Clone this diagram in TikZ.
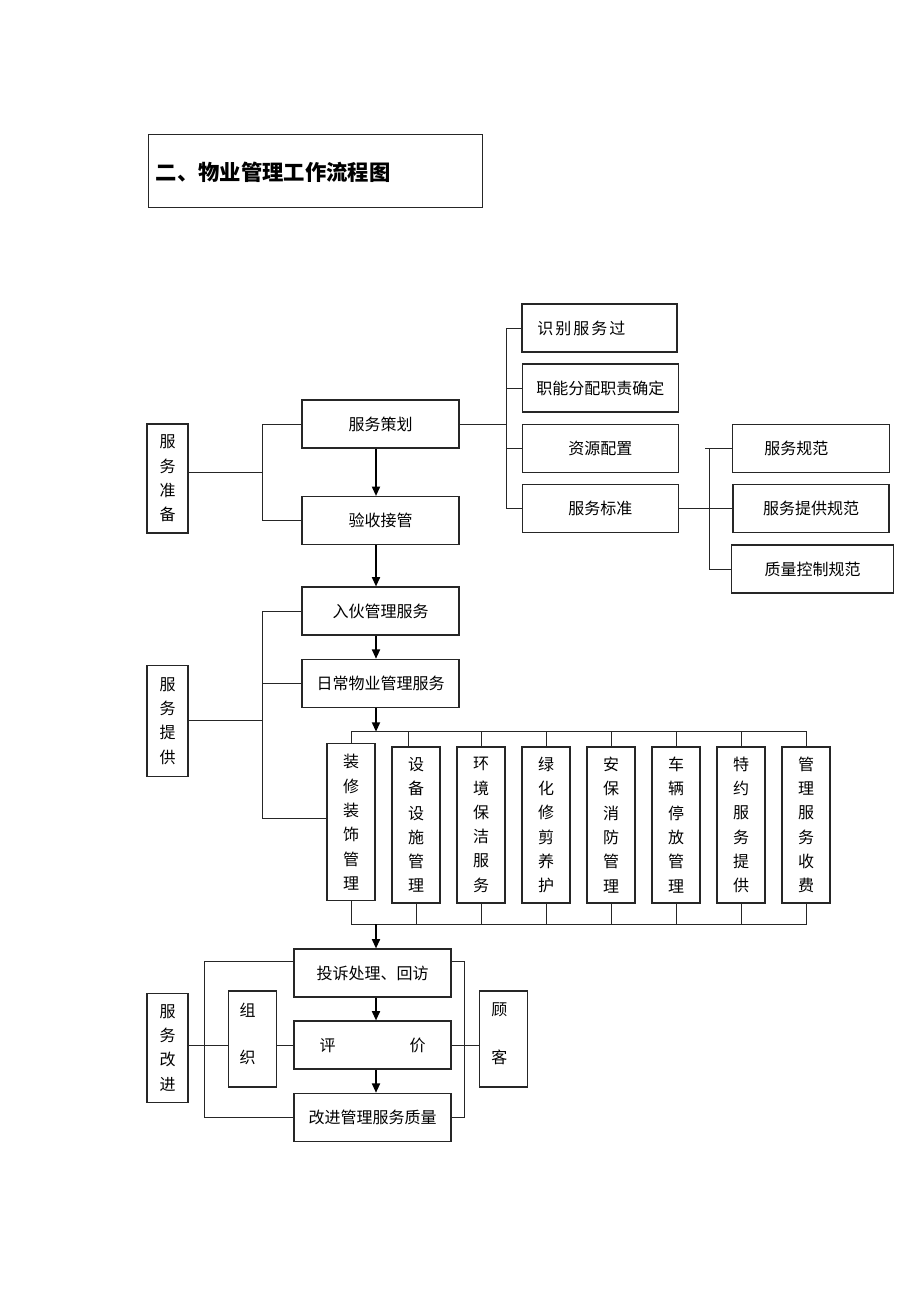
\documentclass[tikz,border=0pt]{standalone}
\usepackage{fontspec}
\newfontfamily\cjk{Noto Sans CJK SC}
\usetikzlibrary{arrows.meta}
\begin{document}
\begin{tikzpicture}[x=0.75pt,y=-0.75pt,
  box/.style={draw=black!85, line width=0.8pt, inner sep=0pt, align=center, font=\cjk\fontsize{12}{14}\selectfont},
  wh/.style 2 args={minimum width=#1*0.75pt, minimum height=#2*0.75pt},
  vtext/.style={font=\cjk\fontsize{12}{18.2}\selectfont},
  txt/.style={inner sep=0pt, font=\cjk\fontsize{12}{14}\selectfont},
  txtw/.style={inner sep=0pt, align=center, font=\cjk\fontsize{12}{35.8}\selectfont},
  ln/.style={line width=0.75pt, draw=black!85},
  arr/.style={line width=1.3pt, -{Triangle[length=7pt,width=6pt]}}]
\useasboundingbox (0,0) rectangle (920,1302);

% title
\node[box, wh={334.4}{72.6}] (title) at (315.5,171) {};
\node[anchor=west, inner sep=0pt, font=\cjk\bfseries\fontsize{16}{20}\selectfont] (titletext) at (155.7,172.7) {二、物业管理工作流程图};

% side boxes
\node[box, vtext, wh={41}{109}] (prep) at (167.5,478.5) {服\\务\\准\\备};
\node[box, vtext, wh={41}{111}] (prov) at (167.5,721) {服\\务\\提\\供};
\node[box, vtext, wh={41}{109}] (impr) at (167.5,1047.8) {服\\务\\改\\进};

% main column
\node[box, wh={157}{48}] (plan) at (380.5,424) {服务策划};
\node[box, wh={157}{48}] (accept) at (380.5,520.5) {验收接管};
\node[box, wh={157}{48}] (movein) at (380.5,611) {入伙管理服务};
\node[box, wh={157}{48}] (daily) at (380.5,683.3) {日常物业管理服务};

% right branch
\node[box, wh={155}{48}] (r1) at (599.5,328) {};
\node[txt, anchor=west] (r1t) at (537,328) {识\hspace{1.5pt}别\hspace{1.5pt}服\hspace{1.5pt}务\hspace{1.5pt}过};
\node[box, wh={156}{48}] (r2) at (600.3,388) {职能分配职责确定};
\node[box, wh={156}{48}] (r3) at (600.3,448.5) {资源配置};
\node[box, wh={156}{48}] (r4) at (600.3,508.7) {服务标准};
\node[box, wh={157}{48}] (s1) at (811.3,448.5) {};
\node[txt, anchor=west] (s1t) at (764,448.5) {服务规范};
\node[box, wh={156}{48}] (s2) at (811,508.7) {服务提供规范};
\node[box, wh={162}{48}] (s3) at (812.7,569) {质量控制规范};

% service columns
\node[box, vtext, wh={48}{156.7}] (c1) at (351,822.3) {装\\修\\装\\饰\\管\\理};
\node[box, vtext, wh={48}{156}] (c2) at (416,825) {设\\备\\设\\施\\管\\理};
\node[box, vtext, wh={48}{156}] (c3) at (481,825) {环\\境\\保\\洁\\服\\务};
\node[box, vtext, wh={48}{156}] (c4) at (546,825) {绿\\化\\修\\剪\\养\\护};
\node[box, vtext, wh={48}{156}] (c5) at (611,825) {安\\保\\消\\防\\管\\理};
\node[box, vtext, wh={48}{156}] (c6) at (676,825) {车\\辆\\停\\放\\管\\理};
\node[box, vtext, wh={48}{156}] (c7) at (741,825) {特\\约\\服\\务\\提\\供};
\node[box, vtext, wh={48}{156}] (c8) at (806,825) {管\\理\\服\\务\\收\\费};

% improvement section
\node[box, wh={157}{48}] (comp) at (372.5,973) {投诉处理、回访};
\node[box, wh={157}{48}] (eval) at (372.5,1045) {评\hspace{55.5pt}价};
\node[box, wh={157}{48}] (impv) at (372.5,1117.3) {改进管理服务质量};
\node[box, wh={48.4}{96}] (org) at (252.5,1039) {};
\node[txtw] (orgt) at (247.7,1033.9) {组\\织};
\node[box, wh={48.4}{96}] (cust) at (503.5,1039) {};
\node[txtw] (custt) at (499.3,1033.9) {顾\\客};

% ---- connectors ----
\coordinate (ax) at (376,0);
\coordinate (b1) at (262,472.7);
\draw[ln] (plan.west) -- (plan.west -| b1) -- (accept.west -| b1) -- (accept.west);
\draw[ln] (prep.east |- b1) -- (b1);
\draw[arr] (plan.south -| ax) -- (accept.north -| ax);

\coordinate (rb) at (506,424);
\draw[ln] (plan.east) -- (rb);
\draw[ln] (r1.west) -- (r1.west -| rb) -- (r4.west -| rb) -- (r4.west);
\draw[ln] (r2.west -| rb) -- (r2.west);
\draw[ln] (r3.west -| rb) -- (r3.west);

\coordinate (sb) at (709.3,0);
\coordinate (sbl) at (705,0);
\draw[ln] (r4.east) -- (s2.west);
\draw[ln] (s1.west -| sbl) -- (s1.west -| sb) -- (s3.west -| sb) -- (s3.west);
\draw[ln] (s1.west -| sb) -- (s1.west);

\draw[arr] (accept.south -| ax) -- (movein.north -| ax);
\draw[arr] (movein.south -| ax) -- (daily.north -| ax);

\coordinate (b2) at (262,720);
\coordinate (b2e) at (262,818.3);
\draw[ln] (movein.west) -| (b2e) -- (b2e -| c1.west);
\draw[ln] (daily.west) -- (daily.west -| b2);
\draw[ln] (prov.east |- b2) -- (b2);

\coordinate (tb) at (0,731.7);
\draw[arr] (daily.south -| ax) -- (ax |- tb);
\draw[ln] (c1.north) -- (c1.north |- tb) -- (c8.north |- tb) -- (c8.north);
\draw[ln] ([xshift=-6pt]c2.north) -- ([xshift=-6pt]c2.north |- tb);
\foreach \c in {c3,c4,c5,c6,c7} \draw[ln] (\c.north) -- (\c.north |- tb);

\coordinate (bb) at (0,924);
\draw[ln] (c1.south) -- (c1.south |- bb) -- (c8.south |- bb) -- (c8.south);
\foreach \c in {c2,c3,c4,c5,c6,c7} \draw[ln] (\c.south) -- (\c.south |- bb);
\draw[arr] (ax |- bb) -- (comp.north -| ax);
\draw[arr] (comp.south -| ax) -- (eval.north -| ax);
\draw[arr] (eval.south -| ax) -- (impv.north -| ax);

\coordinate (lt) at (204.3,961);
\coordinate (lb) at (204.3,1117.3);
\coordinate (rt) at (464.3,961);
\coordinate (rbt) at (464.3,1117.3);
\draw[ln] (comp.west |- lt) -- (lt) -- (lb) -- (impv.west |- lb);
\draw[ln] (comp.east |- rt) -- (rt) -- (rbt) -- (impv.east |- rbt);

\coordinate (hm) at (0,1045.7);
\draw[ln] (impr.east |- hm) -- (org.west |- hm);
\draw[ln] (org.east |- hm) -- (eval.west |- hm);
\draw[ln] (eval.east |- hm) -- (cust.west |- hm);
\end{tikzpicture}
\end{document}
